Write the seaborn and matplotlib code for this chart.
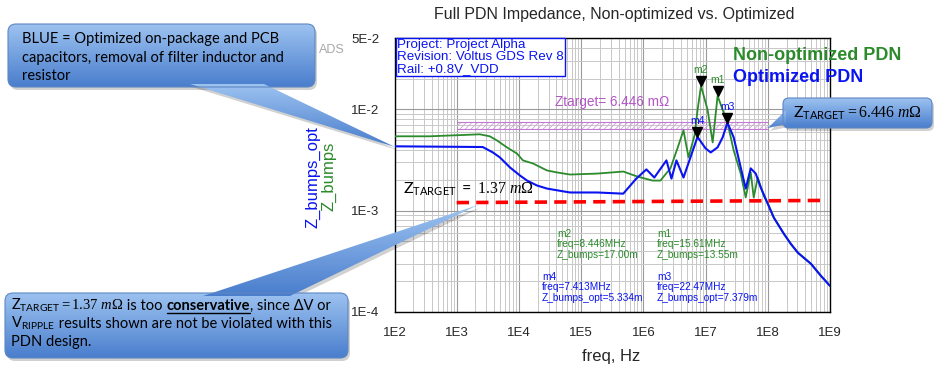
import numpy as np
import pandas as pd
import matplotlib
matplotlib.use('Agg')
import matplotlib.pyplot as plt
import seaborn as sns
from matplotlib.patches import FancyBboxPatch, Polygon
from matplotlib.colors import LinearSegmentedColormap
from matplotlib.ticker import FixedLocator, LogLocator, NullFormatter
from matplotlib.transforms import offset_copy

# ------------------------------ DATOS ------------------------------
# Z_bumps (no optimizado, verde)
freq_nonopt = [1e2, 3.67e2, 2.35e3, 3.4e3, 4.42e3, 6.4e3, 9.29e3, 1.16e4, 1.68e4, 2.83e4,
               4.1e4, 6.65e4, 1.81e5, 4.75e5, 8.0e5, 1.40e6, 1.88e6, 2.72e6, 3.53e6, 4.42e6,
               5.32e6, 6.65e6, 7.43e6, 8.446e6, 1.08e7, 1.30e7, 1.561e7, 2.26e7, 2.83e7, 3.67e7,
               4.42e7, 5.32e7, 5.94e7, 6.90e7, 8.6e7, 1.0e8, 1.25e8, 1.81e8, 2.34e8, 3.05e8,
               4.94e8, 7.16e8, 1e9]
z_nonopt = [5.41e-3, 5.41e-3, 5.66e-3, 5.41e-3, 4.93e-3, 4.21e-3, 3.66e-3, 3.13e-3, 2.92e-3, 2.49e-3,
            2.38e-3, 2.27e-3, 2.32e-3, 2.43e-3, 2.17e-3, 1.98e-3, 1.98e-3, 2.61e-3, 4.11e-3, 6.19e-3,
            3.35e-3, 5.53e-3, 9.8e-3, 17.0e-3, 9.8e-3, 4.71e-3, 13.55e-3, 7.26e-3, 3.93e-3, 2.32e-3,
            1.35e-3, 2.38e-3, 1.35e-3, 2.12e-3, 1.41e-3, 1.17e-3, 8.53e-4, 5.92e-4, 4.71e-4, 3.84e-4,
            2.99e-4, 2.27e-4, 1.81e-4]

# Z_bumps_opt (optimizado, azul)
freq_opt = [1e2, 2.62e3, 3.81e3, 4.94e3, 7.16e3, 1.04e4, 1.35e4, 1.95e4, 2.83e4, 5.13e4,
            6.65e4, 1.81e5, 4.75e5, 7.7e5, 1.12e6, 1.50e6, 2.35e6, 2.83e6, 3.40e6, 4.42e6,
            7.413e6, 1.0e7, 1.21e7, 1.56e7, 1.88e7, 2.247e7, 2.83e7, 3.67e7, 4.42e7, 5.32e7,
            6.4e7, 7.7e7, 1.0e8, 1.25e8, 1.81e8, 2.34e8, 3.05e8, 4.94e8, 7.16e8, 1e9]
z_opt = [4.31e-3, 4.24e-3, 3.75e-3, 3.35e-3, 2.67e-3, 2.22e-3, 1.98e-3, 1.77e-3, 1.65e-3, 1.55e-3,
         1.51e-3, 1.51e-3, 1.47e-3, 2.07e-3, 2.55e-3, 2.12e-3, 3.13e-3, 2.07e-3, 3.13e-3, 2.12e-3,
         5.334e-3, 4.11e-3, 3.75e-3, 4.21e-3, 5.28e-3, 7.379e-3, 5.28e-3, 2.67e-3, 1.65e-3, 2.61e-3,
         2.32e-3, 1.69e-3, 1.17e-3, 8.53e-4, 5.92e-4, 4.71e-4, 3.84e-4, 2.99e-4, 2.27e-4, 1.81e-4]

# Marcadores
marker_names = ['m2', 'm1', 'm4', 'm3']
marker_freq = [8.446e6, 15.61e6, 7.413e6, 22.47e6]
marker_z = [17.00e-3, 13.55e-3, 5.334e-3, 7.379e-3]
marker_trace = ['Z_bumps', 'Z_bumps', 'Z_bumps_opt', 'Z_bumps_opt']
marker_freq_txt = ['8.446MHz', '15.61MHz', '7.413MHz', '22.47MHz']
marker_z_txt = ['17.00m', '13.55m', '5.334m', '7.379m']

# Líneas objetivo
ztarget_freq = [1e3, 7.2e8]
ztarget_z = [1.20e-3, 1.26e-3]
band_freq = [1e3, 1e8]
band_low = 6.34e-3
band_high = 7.43e-3

xtick_vals = [1e2, 1e3, 1e4, 1e5, 1e6, 1e7, 1e8, 1e9]
xtick_labels = ['1E2', '1E3', '1E4', '1E5', '1E6', '1E7', '1E8', '1E9']
ytick_vals = [1e-4, 1e-3, 1e-2, 5e-2]
ytick_labels = ['1E-4', '1E-3', '1E-2', '5E-2']

GREEN = '#2b8a2b'
BLUE = '#0a14f0'
PURPLE = '#b555c8'

# ------------------------------ ESTILO ------------------------------
sns.set_style('white')
plt.rcParams['font.family'] = ['Liberation Sans', 'DejaVu Sans']
plt.rcParams['mathtext.fontset'] = 'custom'
plt.rcParams['mathtext.rm'] = 'Liberation Serif'
plt.rcParams['mathtext.it'] = 'Liberation Serif:italic'
plt.rcParams['mathtext.bf'] = 'Liberation Serif:bold'
plt.rcParams['mathtext.sf'] = 'Lato'
plt.rcParams['hatch.linewidth'] = 0.6

W, H = 937, 372
fig = plt.figure(figsize=(W / 100, H / 100), dpi=100)
ax = fig.add_axes([394.5 / W, 1 - 312 / H, (830 - 394.5) / W, (312 - 38.4) / H])

# ------------------------------ CURVAS ------------------------------
df_nonopt = pd.DataFrame({'freq': freq_nonopt, 'Z': z_nonopt})
df_opt = pd.DataFrame({'freq': freq_opt, 'Z': z_opt})
sns.lineplot(data=df_nonopt, x='freq', y='Z', color=GREEN, lw=1.3, estimator=None,
             sort=False, ax=ax, zorder=3)
sns.lineplot(data=df_opt, x='freq', y='Z', color=BLUE, lw=1.5, estimator=None,
             sort=False, ax=ax, zorder=4)
ax.set_xscale('log')
ax.set_yscale('log')
ax.set_xlim(1e2, 1e9)
ax.set_ylim(1e-4, 5e-2)

# banda Ztarget 6.446 mOhm
ax.fill_between(band_freq, band_low, band_high, facecolor='none', edgecolor='#d6a3e2',
                hatch='//////', lw=0, zorder=2)
ax.hlines([band_low, band_high], band_freq[0], band_freq[1], color='#c07ad4', lw=0.8, zorder=2)

# Ztarget 1.37 mOhm (rojo discontinuo)
ax.plot(ztarget_freq, ztarget_z, color='#ff0000', lw=2.6, dashes=(3.4, 2.0),
        dash_capstyle='butt', zorder=5)

# marcadores
tri_tr = offset_copy(ax.transData, fig=fig, x=0, y=5, units='dots')
for name, f, z, tr in zip(marker_names, marker_freq, marker_z, marker_trace):
    ax.plot(f, z, marker='v', ms=7, color='black', transform=tri_tr, zorder=6)
    col = GREEN if tr == 'Z_bumps' else BLUE
    ax.annotate(name, (f, z), xytext=(0, 16), textcoords='offset pixels', ha='center',
                va='center', color=col, fontsize=7.5, zorder=6)

# ejes y rejilla
ax.xaxis.set_major_locator(FixedLocator(xtick_vals))
ax.set_xticklabels(xtick_labels)
ax.yaxis.set_major_locator(FixedLocator(ytick_vals))
ax.set_yticklabels(ytick_labels)
ax.xaxis.set_minor_locator(LogLocator(base=10, subs=np.arange(2, 10), numticks=30))
ax.yaxis.set_minor_locator(LogLocator(base=10, subs=np.arange(2, 10), numticks=30))
ax.xaxis.set_minor_formatter(NullFormatter())
ax.yaxis.set_minor_formatter(NullFormatter())
ax.set_axisbelow(True)
ax.grid(which='major', color='#9a9a9a', lw=0.8)
ax.grid(which='minor', color='#c8c8c8', lw=0.7)
ax.tick_params(which='minor', length=0)
ax.tick_params(which='major', direction='out', length=9, width=0.9, color='black',
               labelsize=9.5, pad=2)
ax.set_xlabel('')
ax.set_ylabel('')
for sp in ax.spines.values():
    sp.set_color('black')
    sp.set_linewidth(1.0)

# ------------------------------ CAPA DE ANOTACIONES (pixeles) ------------------------------
axo = fig.add_axes([0, 0, 1, 1], zorder=10)
axo.set_xlim(0, W)
axo.set_ylim(H, 0)
axo.axis('off')

axo.text(614, 15, 'Full PDN Impedance, Non-optimized vs. Optimized', ha='center', va='center',
         fontsize=11.5)
axo.text(611, 357, 'freq, Hz', ha='center', va='center', fontsize=12)
axo.text(313, 177, 'Z_bumps_opt', rotation=90, ha='center', va='center', fontsize=12, color=BLUE)
axo.text(329, 176, 'Z_bumps', rotation=90, ha='center', va='center', fontsize=12, color=GREEN)
axo.text(332, 50, 'ADS', ha='center', va='center', fontsize=9, color='#a8a8a8')

axo.text(397, 39, 'Project: Project Alpha\nRevision: Voltus GDS Rev 8\nRail: +0.8V_VDD',
         ha='left', va='top', fontsize=9.6, color=BLUE, linespacing=1.0,
         bbox=dict(boxstyle='square,pad=0.1', fc='white', ec=BLUE, lw=1))

axo.text(733, 56, 'Non-optimized PDN', ha='left', va='center', fontsize=13, fontweight='bold',
         color=GREEN)
axo.text(733, 77, 'Optimized PDN', ha='left', va='center', fontsize=13, fontweight='bold',
         color=BLUE)
axo.text(555, 102, 'Ztarget= 6.446 m\u03a9', ha='left', va='center', fontsize=9.8, color=PURPLE)
axo.text(403, 194, r'$\mathsf{Z}_{\mathsf{TARGET}}\ \mathsf{=}\ 1.37\ m\Omega$', ha='left',
         va='baseline', fontsize=11.5, color='black')

# bloques de marcadores
blocks = {'m2': (557, 229), 'm1': (657, 229), 'm4': (542, 272), 'm3': (657, 272)}
for name, tr, ft, zt in zip(marker_names, marker_trace, marker_freq_txt, marker_z_txt):
    x0, y0 = blocks[name]
    col = GREEN if tr == 'Z_bumps' else BLUE
    axo.text(x0, y0, f'{name}\nfreq={ft}\n{tr}={zt}', ha='left', va='top', fontsize=7.3,
             color=col, linespacing=1.05)


# ------------------------------ CALLOUTS ------------------------------
def callout(box, wedge, radius=8):
    x0, y0, x1, y1 = box
    cmap = LinearSegmentedColormap.from_list('callout', ['#9cc2f0', '#4a7ecd'])
    grad = np.linspace(0, 1, 64).reshape(-1, 1)
    # sombra
    axo.add_patch(FancyBboxPatch((x0 + 2, y0 + 3), x1 - x0, y1 - y0,
                                 boxstyle=f'round,pad=0,rounding_size={radius}',
                                 fc='black', ec='none', alpha=0.18, zorder=4))
    axo.add_patch(Polygon([(px + 2, py + 3) for px, py in wedge], closed=True, fc='black',
                          ec='none', alpha=0.18, zorder=4))
    # cuerpo
    patch = FancyBboxPatch((x0, y0), x1 - x0, y1 - y0,
                           boxstyle=f'round,pad=0,rounding_size={radius}',
                           fc='none', ec='#5d87c2', lw=0.8, zorder=6)
    axo.add_patch(patch)
    im = axo.imshow(grad, extent=(x0, x1, y1, y0), cmap=cmap, aspect='auto', zorder=5)
    im.set_clip_path(patch)
    wp = Polygon(wedge, closed=True, fc='none', ec='none', zorder=5)
    axo.add_patch(wp)
    wy = [p[1] for p in wedge]
    wx = [p[0] for p in wedge]
    im2 = axo.imshow(grad[16:], extent=(min(wx), max(wx), max(wy), min(wy)), cmap=cmap,
                     aspect='auto', zorder=5)
    im2.set_clip_path(wp)


callout((8, 24, 315, 87), [(190, 84), (264, 84), (395, 147)])
callout((5, 293, 348, 358), [(203, 296), (290, 296), (478, 205)])
callout((783, 98, 932, 128), [(786, 110), (786, 124), (768, 128)], radius=6)
axo.set_xlim(0, W)
axo.set_ylim(H, 0)

CALLOUT_FONT = ['Lato', 'DejaVu Sans']
for txt, yb in zip(['BLUE = Optimized on-package and PCB',
                    'capacitors, removal of filter inductor and',
                    'resistor'], [43, 62, 80]):
    axo.text(22, yb, txt, ha='left', va='baseline', fontsize=10.5, family=CALLOUT_FONT,
             color='black', zorder=7)

axo.text(793, 118, r'$\mathsf{Z}_{\mathsf{TARGET}} = 6.446\ m\Omega$', ha='left', va='baseline',
         fontsize=11.3, color='black', zorder=7)

# texto del callout inferior, por piezas
renderer = fig.canvas.get_renderer()


def piece(x, y, s, **kw):
    t = axo.text(x, y, s, ha='left', va='baseline', color='black', zorder=7, fontsize=10.5, **kw)
    return t.get_window_extent(renderer)


x = 11
bb = piece(x, 310, r'$\mathsf{Z}_{\mathsf{TARGET}} = 1.37\ m\Omega$')
x += bb.width
bb = piece(x, 310, ' is too ', family=CALLOUT_FONT)
x += bb.width
bb = piece(x, 310, 'conservative', family=CALLOUT_FONT, fontweight='bold')
axo.plot([x, x + bb.width], [312.5, 312.5], color='black', lw=1, zorder=7)
x += bb.width
piece(x, 310, ', since \u0394V or', family=CALLOUT_FONT)

x = 11
bb = piece(x, 328, r'$\mathsf{V}_{\mathsf{RIPPLE}}$')
x += bb.width
piece(x, 328, ' results shown are not be violated with this', family=CALLOUT_FONT)
piece(11, 346, 'PDN design.', family=CALLOUT_FONT)

fig.savefig('out.png', dpi=100)
